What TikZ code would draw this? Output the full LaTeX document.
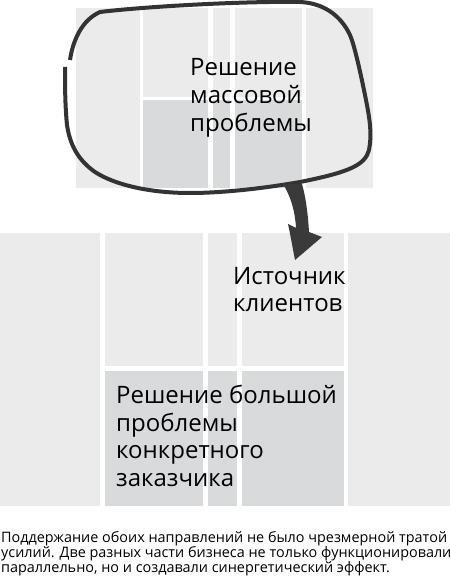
\documentclass[tikz,border=0pt]{standalone}
\usepackage{fontspec}
\setmainfont{Open Sans}
\definecolor{cellA}{HTML}{EBEBEB}
\definecolor{cellB}{HTML}{D9DADB}
\definecolor{inkc}{HTML}{333333}
\definecolor{arrowc}{HTML}{3A3A3A}
\begin{document}
\begin{tikzpicture}[x=1pt,y=-1pt,
  lightcell/.style={fill=cellA},
  darkcell/.style={fill=cellB},
  bubble/.style={draw=inkc,line width=4pt},
  bigtext/.style={anchor=north west,inner sep=0pt,align=left,text=black,font=\fontsize{24}{27.6}\selectfont},
  captext/.style={anchor=north west,inner sep=0pt,align=left,text=black,font=\fontsize{14.4}{15}\selectfont}]
\useasboundingbox (0,0) rectangle (450,580);
\fill[white] (0,0) rectangle (450,580);
% top grid
\fill[lightcell] (76,8) rectangle (140,188);
\fill[lightcell] (143,8) rectangle (208,97);
\fill[lightcell] (213,8) rectangle (230,97);
\fill[lightcell] (235,8) rectangle (302,97);
\fill[lightcell] (306,8) rectangle (373,188);
\fill[darkcell] (143,100) rectangle (208,188);
\fill[darkcell] (213,100) rectangle (230,188);
\fill[darkcell] (235,100) rectangle (302,188);
% bottom grid
\fill[lightcell] (0,233) rectangle (100,506);
\fill[lightcell] (105,233) rectangle (203,366);
\fill[lightcell] (208,233) rectangle (237,366);
\fill[lightcell] (242,233) rectangle (344,366);
\fill[lightcell] (348,233) rectangle (450,506);
\fill[darkcell] (105,371) rectangle (203,506);
\fill[darkcell] (208,371) rectangle (237,506);
\fill[darkcell] (242,371) rectangle (344,506);
% speech bubble
\draw[bubble] (70,60) .. controls (73,40) and (82,20) .. (100,12)
  .. controls (150,6) and (250,1) .. (300,2)
  .. controls (322,3) and (340,14) .. (350,35)
  .. controls (354,44) and (360,70) .. (366,100)
  .. controls (370,120) and (372,135) .. (369,150)
  .. controls (365,165) and (350,172) .. (300,182)
  .. controls (260,189) and (220,193) .. (190,193)
  .. controls (150,193) and (115,185) .. (95,172)
  .. controls (78,160) and (70,145) .. (67,125)
  .. controls (65,105) and (65,85) .. (65,67);
% arrow
\fill[arrowc] (283,184) .. controls (290,195) and (295,210) .. (296,228)
  -- (288,224) .. controls (291,238) and (293,250) .. (295,260)
  -- (322,237) -- (309,232)
  .. controls (308,215) and (306,198) .. (302,184) -- cycle;
% texts
\node[bigtext,font=\fontsize{24}{28}\selectfont] (mass) at (190,58) {Решение\\массовой\\проблемы};
\node[bigtext] (source) at (233,267) {Источник\\клиентов};
\node[bigtext] (client) at (116,385) {Решение большой\\проблемы\\конкретного\\заказчика};
\node[captext] (caption) at (1,531) {Поддержание обоих направлений не было чрезмерной тратой\\усилий. Две разных части бизнеса не только функционировали\\параллельно, но и создавали синергетический эффект.};
\end{tikzpicture}
\end{document}
